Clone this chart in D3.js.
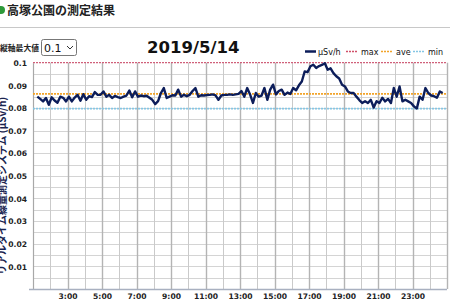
<!DOCTYPE html>
<html><head><meta charset="utf-8">
<script src="https://cdn.jsdelivr.net/npm/d3@7"></script>
<style>
html,body{margin:0;padding:0;background:#fff;overflow:hidden;}
svg{display:block;}
</style></head>
<body>
<svg id="c" width="450" height="307"></svg>
<script>
// ---- data ----
const pageTitle = "高塚公園の測定結果";
const dateLabel = "2019/5/14";
const selectLabel = "縦軸最大値";
const selectValue = "0.1";
const yTitle = "リアルタイム線量測定システム (μSv/h)";
const seriesNames = ["μSv/h", "max", "ave", "min"];
const xTickHours = [3, 5, 7, 9, 11, 13, 15, 17, 19, 21, 23];
const yTickValues = [0.01, 0.02, 0.03, 0.04, 0.05, 0.06, 0.07, 0.08, 0.09, 0.1];
const doseValues = [
  0.0850, 0.0840, 0.0829, 0.0844, 0.0814, 0.0847, 0.0833, 0.0823, 0.0850, 0.0845,
  0.0829, 0.0850, 0.0829, 0.0846, 0.0858, 0.0832, 0.0861, 0.0836, 0.0852, 0.0848,
  0.0870, 0.0858, 0.0858, 0.0873, 0.0850, 0.0858, 0.0844, 0.0853, 0.0848, 0.0844,
  0.0850, 0.0855, 0.0877, 0.0847, 0.0873, 0.0850, 0.0855, 0.0852, 0.0854, 0.0845,
  0.0836, 0.0817, 0.0830, 0.0866, 0.0888, 0.0844, 0.0850, 0.0856, 0.0855, 0.0881,
  0.0850, 0.0858, 0.0852, 0.0858, 0.0875, 0.0888, 0.0850, 0.0856, 0.0855, 0.0857,
  0.0858, 0.0860, 0.0856, 0.0836, 0.0855, 0.0858, 0.0858, 0.0860, 0.0858, 0.0860,
  0.0862, 0.0875, 0.0850, 0.0888, 0.0860, 0.0822, 0.0866, 0.0850, 0.0855, 0.0888,
  0.0836, 0.0881, 0.0903, 0.0860, 0.0875, 0.0881, 0.0858, 0.0868, 0.0862, 0.0888,
  0.0878, 0.0900, 0.0917, 0.0961, 0.0958, 0.0984, 0.0991, 0.0977, 0.0985, 0.0990,
  0.0998, 0.0969, 0.0975, 0.0954, 0.0940, 0.0930, 0.0903, 0.0895, 0.0873, 0.0866,
  0.0866, 0.0850, 0.0835, 0.0822, 0.0830, 0.0822, 0.0836, 0.0802, 0.0830, 0.0822,
  0.0845, 0.0829, 0.0840, 0.0822, 0.0888, 0.0850, 0.0895, 0.0829, 0.0836, 0.0829,
  0.0822, 0.0807, 0.0798, 0.0850, 0.0836, 0.0888, 0.0866, 0.0855, 0.0852, 0.0845,
  0.0873, 0.0866
];
const maxValue = 0.1;
const aveValue = 0.0862;
const minValue = 0.0797;
const firstSampleHour = 1.25;   // position of first sample on the hour axis
const sampleStepHours = 1 / 6;  // 10-minute samples

// ---- layout ----
const svg = d3.select("#c");
const L = 33, R = 447, T = 62.7, B = 289;
const x = d3.scaleLinear().domain([1, 25]).range([L, R]);
const y = d3.scaleLinear().domain([0, 0.1]).range([B, T]);
const font = "'DejaVu Sans', Verdana, sans-serif";
const jfont = "'Noto Sans CJK JP', sans-serif";

// header
svg.append("circle").attr("cx", 1).attr("cy", 10).attr("r", 4).attr("fill", "#2e9a3a");
svg.append("text").attr("x", 7).attr("y", 15).attr("font-family", jfont).attr("font-weight", "bold")
  .attr("font-size", 12).attr("fill", "#222").text(pageTitle);
svg.append("line").attr("x1", 0).attr("x2", 450).attr("y1", 27.5).attr("y2", 27.5)
  .attr("stroke", "#c8c8c8").attr("stroke-width", 1);

// select box
svg.append("text").attr("x", 0).attr("y", 50.5).attr("font-family", jfont).attr("font-weight", "bold")
  .attr("font-size", 7.8).attr("fill", "#222").text(selectLabel);
svg.append("rect").attr("x", 41.5).attr("y", 39.5).attr("width", 35).attr("height", 16).attr("rx", 2)
  .attr("fill", "#fff").attr("stroke", "#777");
svg.append("text").attr("x", 44).attr("y", 52).attr("font-family", font).attr("font-size", 11)
  .attr("fill", "#111").text(selectValue);
svg.append("path").attr("d", "M67,46 L70,49 L73,46").attr("fill", "none").attr("stroke", "#333").attr("stroke-width", 1);

// date
svg.append("text").attr("x", 147).attr("y", 53).attr("font-family", font).attr("font-weight", "bold")
  .attr("font-size", 16.5).attr("fill", "#111").text(dateLabel);

// grid
const g = svg.append("g");
const minorY = d3.range(0.005, 0.1, 0.005);
g.selectAll("line.hy").data(minorY).join("line")
  .attr("x1", L).attr("x2", R).attr("y1", d => Math.round(y(d)) + 0.5).attr("y2", d => Math.round(y(d)) + 0.5)
  .attr("stroke", "#d4d4d4").attr("stroke-width", 1);
const hours = d3.range(2, 26);
g.selectAll("line.vx").data(hours).join("line")
  .attr("y1", T).attr("y2", B).attr("x1", d => Math.round(x(d)) + 0.5).attr("x2", d => Math.round(x(d)) + 0.5)
  .attr("stroke", d => d % 2 === 1 ? "#b4b4b4" : "#cacaca").attr("stroke-width", d => d % 2 === 1 ? 1.4 : 1);

// axes
const yAxis = d3.axisLeft(y).tickValues(yTickValues).tickSize(0).tickPadding(6)
  .tickFormat(d => d3.format("~g")(+d.toFixed(3)));
const ya = svg.append("g").attr("transform", `translate(${L},0)`).call(yAxis);
ya.select(".domain").attr("stroke", "#a8a8a8").attr("stroke-width", 1.2);
ya.selectAll("text").attr("font-family", font).attr("font-size", 7.6).attr("fill", "#222").attr("font-weight", "bold").attr("dy", "0.35em");

const xAxis = d3.axisBottom(x).tickValues(xTickHours).tickSize(0).tickPadding(5).tickFormat(d => d + ":00");
const xa = svg.append("g").attr("transform", `translate(0,${B})`).call(xAxis);
xa.select(".domain").attr("stroke", "#a8b0c0").attr("stroke-width", 1.5).attr("d", `M${L - 4},0.5H${R}`);
xa.selectAll("text").attr("font-family", font).attr("font-size", 7.6).attr("fill", "#222").attr("font-weight", "bold");

// y title
svg.append("text").attr("transform", `translate(6,${(T + B) / 2 + 10}) rotate(-90)`)
  .attr("text-anchor", "middle").attr("font-family", jfont).attr("font-weight", "bold")
  .attr("font-size", 10).attr("fill", "#1a2550").text(yTitle);

// reference lines
const refs = [
  {v: maxValue, c: "#d0607a", w: 1.2},
  {v: aveValue, c: "#f2a42a", w: 1.8},
  {v: minValue, c: "#86c6e4", w: 1.8}
];
svg.selectAll("line.ref").data(refs).join("line")
  .attr("x1", L).attr("x2", R).attr("y1", d => y(d.v)).attr("y2", d => y(d.v))
  .attr("stroke", d => d.c).attr("stroke-width", d => d.w).attr("stroke-dasharray", "2,1");

// series
const pts = doseValues.map((v, i) => ({t: firstSampleHour + i * sampleStepHours, v}));
svg.append("path").datum(pts)
  .attr("d", d3.line().x(d => x(d.t)).y(d => y(d.v)))
  .attr("fill", "none").attr("stroke", "#0c1d5a").attr("stroke-width", 2.4).attr("stroke-linejoin", "round");

// legend
const legendItems = [
  {name: seriesNames[0], c: "#0c1d5a", dash: null, w: 2.5, x0: 305, tx: 318},
  {name: seriesNames[1], c: "#d0506a", dash: "2,1", w: 1.5, x0: 346, tx: 361},
  {name: seriesNames[2], c: "#f2a42a", dash: "2,1", w: 1.5, x0: 381, tx: 396},
  {name: seriesNames[3], c: "#86c6e4", dash: "2,1", w: 1.5, x0: 413, tx: 428}
];
const lg = svg.append("g");
lg.selectAll("line").data(legendItems).join("line")
  .attr("x1", d => d.x0).attr("x2", d => d.x0 + 11).attr("y1", 51.5).attr("y2", 51.5)
  .attr("stroke", d => d.c).attr("stroke-width", d => d.w).attr("stroke-dasharray", d => d.dash);
lg.selectAll("text").data(legendItems).join("text")
  .attr("x", d => d.tx).attr("y", 54.5).attr("font-family", font).attr("font-size", 8)
  .attr("fill", "#111").text(d => d.name);
</script>
</body></html>
